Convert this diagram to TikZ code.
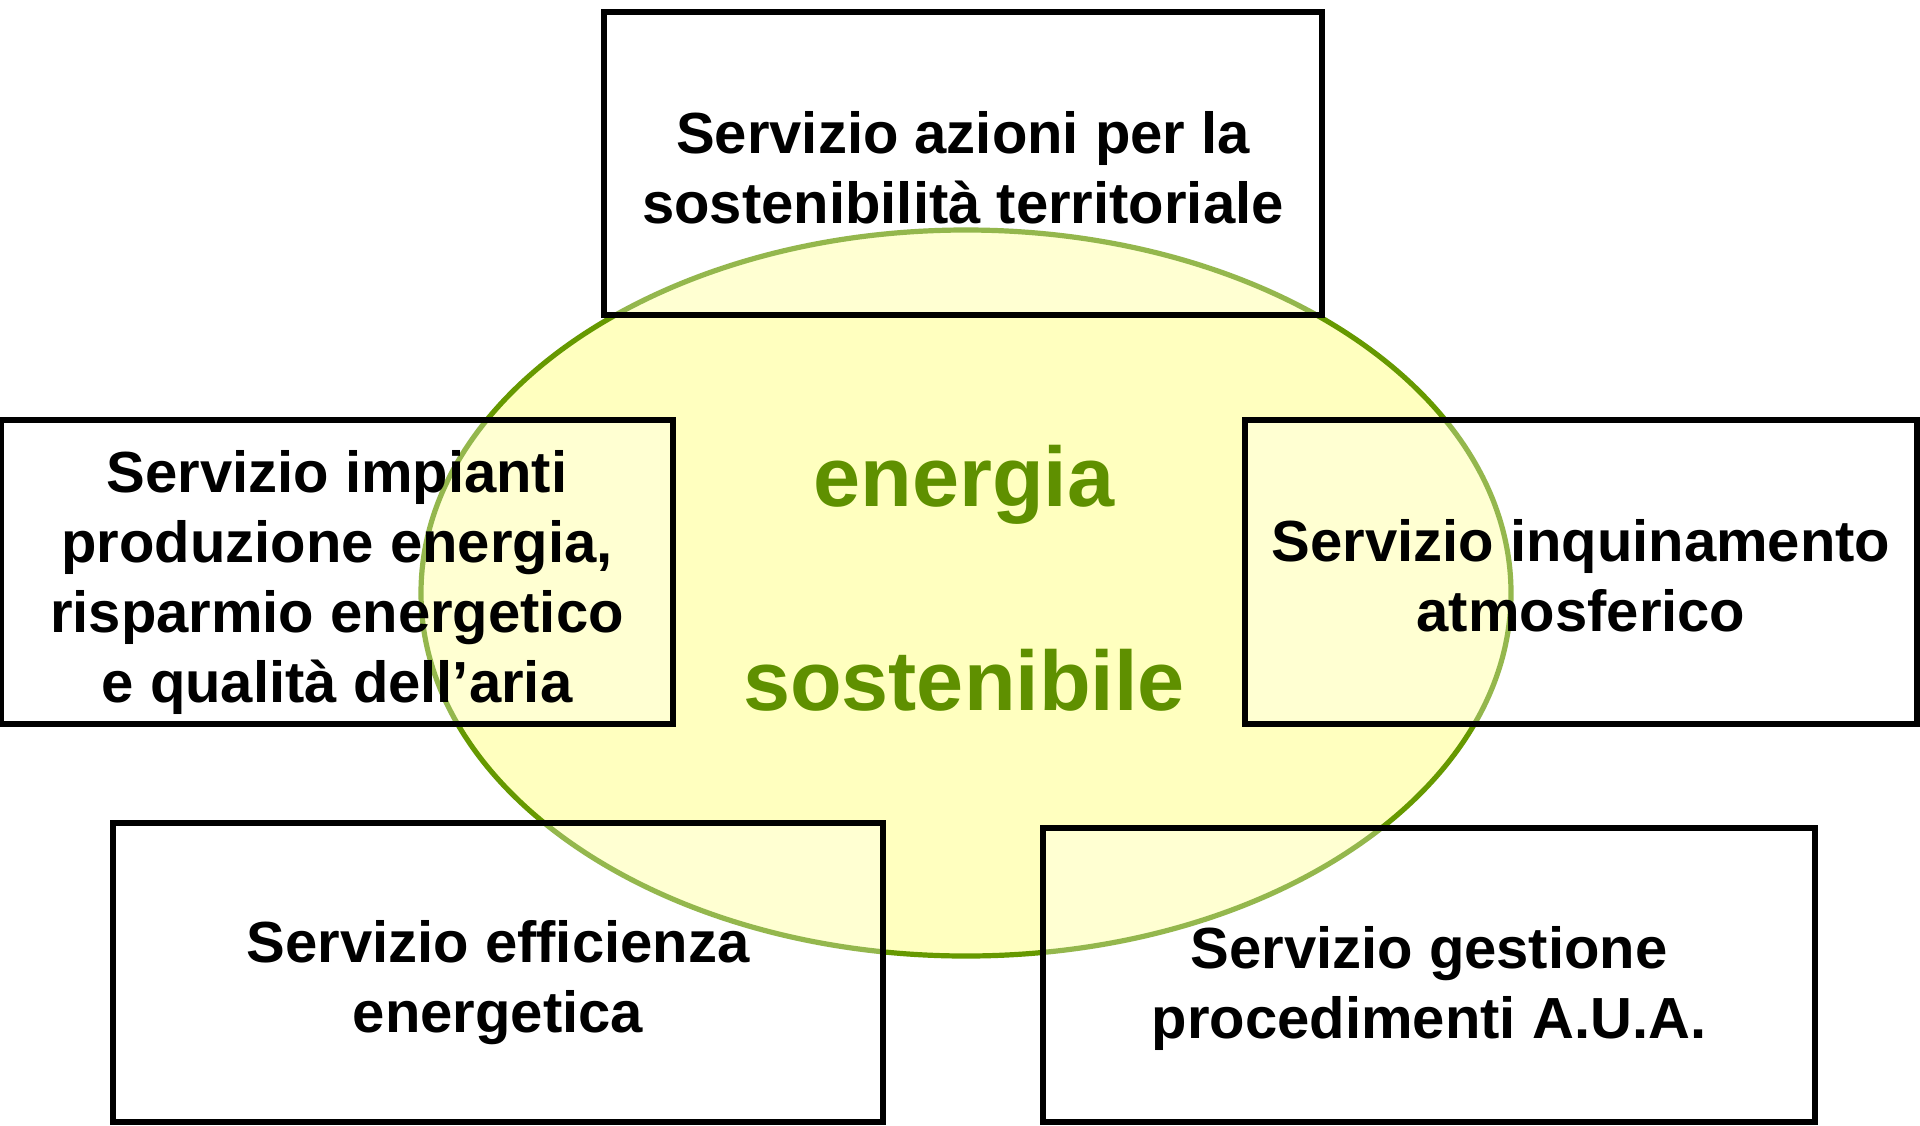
\documentclass[tikz,border=0pt]{standalone}
\usepackage{fontspec}
\usetikzlibrary{shapes.geometric}
\setmainfont{Liberation Sans}
\definecolor{ellfill}{HTML}{FFFFBF}
\definecolor{ellline}{HTML}{669900}
\definecolor{greentext}{HTML}{5F9000}
\begin{document}
\begin{tikzpicture}[x=0.5pt,y=-0.5pt,
  servbox/.style={draw=black,line width=3pt,fill=white,fill opacity=0.3,inner sep=0pt},
  servtext/.style={inner sep=0pt,align=center,font=\bfseries\fontsize{29pt}{35pt}\selectfont},
  bigword/.style={text=greentext,font=\bfseries\fontsize{42.3pt}{50pt}\selectfont,anchor=base}]
\useasboundingbox (0,0) rectangle (1920,1125);
\fill[white] (0,0) rectangle (1920,1125);
\node[ellipse,draw=ellline,line width=2.6pt,fill=ellfill,minimum width=545pt,minimum height=363pt,inner sep=0pt] (ell) at (966,593) {};
\node[servbox,minimum width=359pt,minimum height=151.5pt] (top) at (963,163.5) {};
\node[servbox,minimum width=336pt,minimum height=152pt] (left) at (337,572) {};
\node[servbox,minimum width=336pt,minimum height=152pt] (right) at (1581,572) {};
\node[servbox,minimum width=385pt,minimum height=149.5pt] (bl) at (498,972.5) {};
\node[servbox,minimum width=386pt,minimum height=147pt] (br) at (1429,975) {};
\node[servtext] (topT) at ([yshift=-2pt]top.center) {Servizio azioni per la\\sostenibilità territoriale};
\node[servtext] (leftT) at ([yshift=-5pt]left.center) {Servizio impianti\\produzione energia,\\risparmio energetico\\e qualità dell’aria};
\node[servtext] (rightT) at ([yshift=-2pt]right.center) {Servizio inquinamento\\atmosferico};
\node[servtext] (blT) at ([yshift=-5pt]bl.center) {Servizio efficienza\\energetica};
\node[servtext] (brT) at ([yshift=-6.5pt]br.center) {Servizio gestione\\procedimenti A.U.A.};
\node[bigword] (w1) at (964,506) {energia};
\node[bigword] (w2) at (964,710) {sostenibile};
\end{tikzpicture}
\end{document}
